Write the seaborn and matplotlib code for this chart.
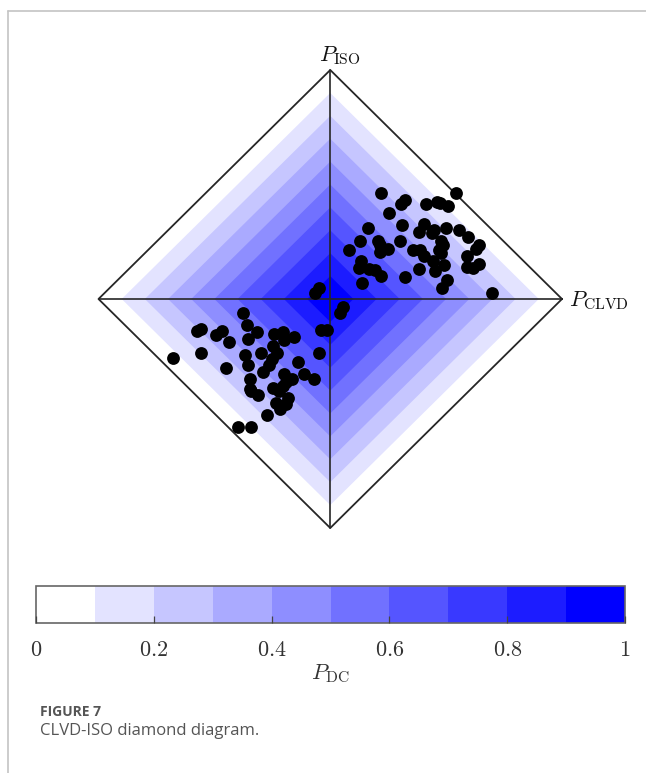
import numpy as np
import pandas as pd
import matplotlib
matplotlib.use("Agg")
import matplotlib.pyplot as plt
from matplotlib.colors import ListedColormap, BoundaryNorm
from matplotlib.lines import Line2D
from matplotlib.ticker import NullLocator
import seaborn as sns

sns.set_style("white")
plt.rcParams["mathtext.fontset"] = "cm"
plt.rcParams["axes.axisbelow"] = False

# P_DC band levels (lower bounds) and colorbar ticks
pdc_levels = [0.0, 0.1, 0.2, 0.3, 0.4, 0.5, 0.6, 0.7, 0.8, 0.9, 1.0]
cbar_ticks = [0, 0.2, 0.4, 0.6, 0.8, 1]
cbar_ticklabels = ["0", "0.2", "0.4", "0.6", "0.8", "1"]

# Event source-type coordinates (CLVD, ISO)
clvd = [0.221, 0.541, 0.321, 0.307, 0.412, 0.460, 0.475, 0.509, 0.252, 0.311,
        0.162, 0.404, 0.381, 0.447, 0.438, 0.501, 0.555, 0.596, 0.130, 0.206,
        0.300, 0.213, 0.249, 0.479, 0.486, 0.641, 0.630, 0.081, 0.213, 0.357,
        0.386, 0.469, 0.479, 0.403, 0.591, 0.134, 0.443, 0.491, 0.641, 0.123,
        0.167, 0.191, 0.221, 0.383, 0.450, 0.591, 0.616, 0.136, 0.321, 0.502,
        0.481, 0.700,
        -0.067, -0.050, 0.054, 0.041,
        -0.376, -0.359, -0.577, -0.558, -0.491, -0.469, -0.438, -0.357, -0.318, -0.244,
        -0.206, -0.199, -0.157, -0.038, -0.016, -0.680, -0.559, -0.450, -0.369, -0.357,
        -0.300, -0.249, -0.228, -0.253, -0.264, -0.290, -0.347, -0.141, -0.199, -0.167,
        -0.189, -0.206, -0.114, -0.070, -0.050, -0.347, -0.340, -0.311, -0.247, -0.221,
        -0.184, -0.232, -0.218, -0.189, -0.272, -0.400, -0.340]
iso = [0.463, 0.463, 0.434, 0.414, 0.417, 0.424, 0.421, 0.405, 0.375, 0.325,
       0.312, 0.326, 0.291, 0.303, 0.288, 0.312, 0.300, 0.270, 0.253, 0.253,
       0.253, 0.234, 0.220, 0.253, 0.234, 0.234, 0.217, 0.212, 0.205, 0.212,
       0.215, 0.212, 0.200, 0.189, 0.189, 0.165, 0.165, 0.150, 0.151, 0.137,
       0.130, 0.125, 0.102, 0.130, 0.122, 0.139, 0.135, 0.071, 0.098, 0.081,
       0.049, 0.028,
       0.027, 0.047, -0.034, -0.063,
       -0.062, -0.112, -0.138, -0.130, -0.157, -0.138, -0.186, -0.174, -0.145, -0.152,
       -0.145, -0.179, -0.167, -0.135, -0.135, -0.257, -0.235, -0.303, -0.243, -0.287,
       -0.235, -0.204, -0.237, -0.262, -0.287, -0.320, -0.349, -0.277, -0.327, -0.349,
       -0.364, -0.379, -0.327, -0.349, -0.235, -0.393, -0.400, -0.419, -0.389, -0.403,
       -0.432, -0.452, -0.481, -0.459, -0.507, -0.561, -0.561]

df = pd.DataFrame({"CLVD": clvd, "ISO": iso})

n_bands = len(pdc_levels) - 1
band_colors = [(1 - k / (n_bands - 1), 1 - k / (n_bands - 1), 1.0) for k in range(n_bands)]
cmap = ListedColormap(band_colors)
norm = BoundaryNorm(pdc_levels, cmap.N)

W, H = 646, 773
fig = plt.figure(figsize=(W / 100, H / 100), dpi=100)

# frame lines
fig.add_artist(Line2D([8 / W, 1], [1 - 11 / H, 1 - 11 / H], color="#c4c4c4", lw=1.2))
fig.add_artist(Line2D([8 / W, 8 / W], [1 - 11 / H, 0], color="#c4c4c4", lw=1.2))

# diamond axes
left, right, top, bottom = 98.5, 562.0, 70.0, 528.0
ax = fig.add_axes([left / W, 1 - bottom / H, (right - left) / W, (bottom - top) / H])
ax.set_xlim(-1, 1)
ax.set_ylim(-1, 1)
ax.axis("off")

for k, lev in enumerate(pdc_levels[:-1]):
    r = 1 - lev
    ax.fill([r, 0, -r, 0], [0, r, 0, -r], color=band_colors[k], lw=0, zorder=1)

ax.plot([1, 0, -1, 0, 1], [0, 1, 0, -1, 0], color="#262626", lw=1.3, zorder=3, clip_on=False)
ax.plot([-1, 1], [0, 0], color="#262626", lw=1.2, zorder=3)
ax.plot([0, 0], [-1, 1], color="#262626", lw=1.2, zorder=3, clip_on=False)

sns.scatterplot(data=df, x="CLVD", y="ISO", ax=ax, color="black", s=85,
                linewidth=0, zorder=5, legend=False)

ax.text(0.04, 1.062, r"$P_{\rm ISO}$", ha="center", va="center", fontsize=16, color="#111111")
ax.text(1.03, -0.005, r"$P_{\rm CLVD}$", ha="left", va="center", fontsize=16, color="#111111")

# colorbar
cax = fig.add_axes([36 / W, 1 - 623 / H, (625 - 36) / W, (623 - 586) / H])
sm = matplotlib.cm.ScalarMappable(norm=norm, cmap=cmap)
cb = fig.colorbar(sm, cax=cax, orientation="horizontal", ticks=cbar_ticks)
cb.set_ticklabels(["$" + t + "$" for t in cbar_ticklabels])
cax.set_axisbelow(False)
cax.xaxis.set_minor_locator(NullLocator())
cb.outline.set_edgecolor("#666666")
cb.outline.set_linewidth(1.2)
cax.tick_params(axis="x", which="major", direction="in", length=5, width=0.9,
                color="#444444", labelsize=16, labelcolor="#333333", pad=12,
                bottom=True, top=False)
cb.set_label(r"$P_{\rm DC}$", fontsize=16, color="#333333", labelpad=2)

# caption
fig.text(40 / W, 1 - 712 / H, "FIGURE 7", fontsize=10, fontweight="bold",
         color="#555555", family="Open Sans", va="center")
fig.text(40 / W, 1 - 731 / H, "CLVD-ISO diamond diagram.", fontsize=12,
         color="#555555", family="Open Sans", va="center")

fig.savefig("out.png", dpi=100)
